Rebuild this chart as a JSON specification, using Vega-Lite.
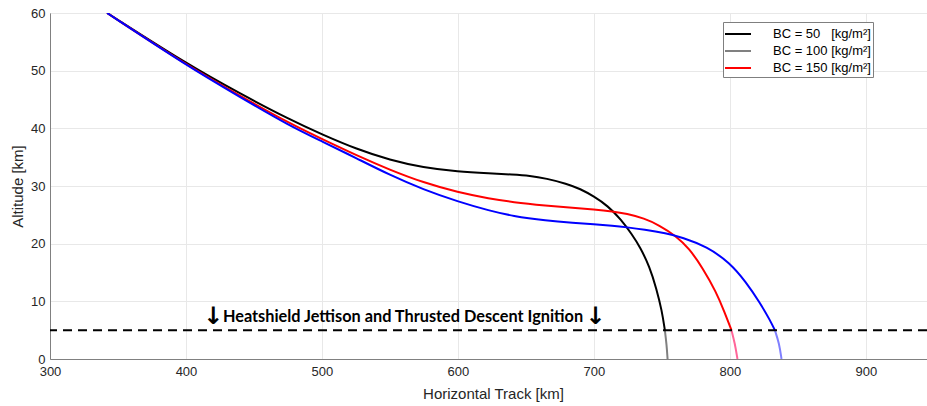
{
  "$schema": "https://vega.github.io/schema/vega-lite/v6.json",
  "width": 877,
  "height": 346,
  "autosize": {"type": "none"},
  "padding": {"left": 50, "top": 13, "right": 0, "bottom": 47},
  "background": "white",
  "config": {
    "view": {"stroke": "#808080", "strokeWidth": 1},
    "font": "Liberation Sans",
    "axis": {
      "gridColor": "#e8e8e8",
      "gridWidth": 1,
      "domainColor": "#808080",
      "ticks": false,
      "labelFlush": false,
      "labelFont": "Liberation Sans",
      "labelFontSize": 13,
      "labelColor": "#262626",
      "titleFont": "Liberation Sans",
      "titleFontSize": 15,
      "titleFontWeight": "normal",
      "titleColor": "#262626"
    }
  },
  "datasets": {
    "curves": [
      {"series": "s1", "x": 342, "y": 60},
      {"series": "s1", "x": 401, "y": 51.1},
      {"series": "s1", "x": 440, "y": 46.0},
      {"series": "s1", "x": 476.5, "y": 41.5},
      {"series": "s1", "x": 500.5, "y": 38.9},
      {"series": "s1", "x": 525.5, "y": 36.4},
      {"series": "s1", "x": 550, "y": 34.5},
      {"series": "s1", "x": 574.5, "y": 33.2},
      {"series": "s1", "x": 600, "y": 32.5},
      {"series": "s1", "x": 623.5, "y": 32.2},
      {"series": "s1", "x": 640, "y": 32.0},
      {"series": "s1", "x": 653, "y": 31.8},
      {"series": "s1", "x": 665, "y": 31.3},
      {"series": "s1", "x": 680, "y": 30.4},
      {"series": "s1", "x": 690, "y": 29.5},
      {"series": "s1", "x": 700, "y": 28.2},
      {"series": "s1", "x": 710, "y": 26.6},
      {"series": "s1", "x": 720, "y": 24.2},
      {"series": "s1", "x": 728, "y": 21.6},
      {"series": "s1", "x": 734, "y": 19.4},
      {"series": "s1", "x": 741, "y": 16.0},
      {"series": "s1", "x": 746, "y": 12.2},
      {"series": "s1", "x": 750, "y": 8.4},
      {"series": "s1", "x": 752.2, "y": 5.0},
      {"series": "s2", "x": 752.2, "y": 5.0},
      {"series": "s2", "x": 753.5, "y": 2.5},
      {"series": "s2", "x": 754.2, "y": 0},
      {"series": "s3", "x": 342, "y": 60},
      {"series": "s3", "x": 401, "y": 50.9},
      {"series": "s3", "x": 440, "y": 45.6},
      {"series": "s3", "x": 476.5, "y": 40.8},
      {"series": "s3", "x": 500.5, "y": 38.1},
      {"series": "s3", "x": 525.5, "y": 35.3},
      {"series": "s3", "x": 550, "y": 32.8},
      {"series": "s3", "x": 574.5, "y": 30.6},
      {"series": "s3", "x": 600, "y": 28.9},
      {"series": "s3", "x": 623.5, "y": 27.8},
      {"series": "s3", "x": 640, "y": 27.2},
      {"series": "s3", "x": 665, "y": 26.6},
      {"series": "s3", "x": 685, "y": 26.2},
      {"series": "s3", "x": 700, "y": 25.95},
      {"series": "s3", "x": 714, "y": 25.6},
      {"series": "s3", "x": 724, "y": 25.2},
      {"series": "s3", "x": 737, "y": 24.4},
      {"series": "s3", "x": 748, "y": 23.2},
      {"series": "s3", "x": 760, "y": 21.4},
      {"series": "s3", "x": 770, "y": 19.2},
      {"series": "s3", "x": 780, "y": 15.8},
      {"series": "s3", "x": 790, "y": 11.6},
      {"series": "s3", "x": 796, "y": 8.2},
      {"series": "s3", "x": 801.2, "y": 5.0},
      {"series": "s4", "x": 801.2, "y": 5.0},
      {"series": "s4", "x": 803.7, "y": 2.7},
      {"series": "s4", "x": 805.6, "y": 0},
      {"series": "s5", "x": 342, "y": 60},
      {"series": "s5", "x": 401, "y": 50.8},
      {"series": "s5", "x": 440, "y": 45.4},
      {"series": "s5", "x": 476.5, "y": 40.4},
      {"series": "s5", "x": 500.5, "y": 37.7},
      {"series": "s5", "x": 525.5, "y": 34.8},
      {"series": "s5", "x": 550, "y": 31.9},
      {"series": "s5", "x": 574.5, "y": 29.4},
      {"series": "s5", "x": 600, "y": 27.3},
      {"series": "s5", "x": 623.5, "y": 25.7},
      {"series": "s5", "x": 640, "y": 24.8},
      {"series": "s5", "x": 665, "y": 24.0},
      {"series": "s5", "x": 685, "y": 23.6},
      {"series": "s5", "x": 700, "y": 23.35},
      {"series": "s5", "x": 714, "y": 23.1},
      {"series": "s5", "x": 724, "y": 22.85},
      {"series": "s5", "x": 737, "y": 22.45},
      {"series": "s5", "x": 753, "y": 21.8},
      {"series": "s5", "x": 765, "y": 21.1},
      {"series": "s5", "x": 783, "y": 19.5},
      {"series": "s5", "x": 800, "y": 16.7},
      {"series": "s5", "x": 812, "y": 13.3},
      {"series": "s5", "x": 822, "y": 9.8},
      {"series": "s5", "x": 829.4, "y": 6.8},
      {"series": "s5", "x": 833.1, "y": 5.0},
      {"series": "s6", "x": 833.1, "y": 5.0},
      {"series": "s6", "x": 836.3, "y": 2.7},
      {"series": "s6", "x": 838, "y": 0}
    ],
    "marker": [{"y": 5}],
    "notes": [
      {"x": 420, "y": 7.3, "label": "↓", "kind": "arrow"},
      {"x": 701, "y": 7.3, "label": "↓", "kind": "arrow"},
      {"x": 559.6, "y": 6.47, "label": "Heatshield Jettison and Thrusted Descent Ignition", "kind": "text"}
    ]
  },
  "layer": [
    {
      "data": {"name": "curves"},
      "mark": {"type": "line", "strokeWidth": 2, "interpolate": "basis", "clip": true},
      "encoding": {
        "x": {
          "field": "x", "type": "quantitative",
          "scale": {"domain": [300, 945], "nice": false, "zero": false},
          "axis": {
            "values": [300, 400, 500, 600, 700, 800, 900],
            "title": "Horizontal Track [km]",
            "labelPadding": 6,
            "titlePadding": 8,
            "titleX": 443
          }
        },
        "y": {
          "field": "y", "type": "quantitative",
          "scale": {"domain": [0, 60], "nice": false},
          "axis": {
            "values": [0, 10, 20, 30, 40, 50, 60],
            "title": "Altitude [km]",
            "labelPadding": 5,
            "titlePadding": 5
          }
        },
        "color": {
          "field": "series", "type": "nominal",
          "scale": {
            "domain": ["s1", "s2", "s3", "s4", "s5", "s6"],
            "range": ["#000000", "#808080", "#ff0000", "#ff6699", "#0000ff", "#8080ff"]
          },
          "legend": {
            "orient": "none",
            "legendX": 673,
            "legendY": 9,
            "values": ["s1", "s2", "s3"],
            "title": null,
            "labelExpr": "datum.value == 's1' ? 'BC = 50\u00a0\u00a0\u00a0[kg/m²]' : datum.value == 's2' ? 'BC = 100 [kg/m²]' : 'BC = 150 [kg/m²]'",
            "symbolType": "M-1.5,0H1.5",
            "symbolSize": 300,
            "symbolStrokeWidth": 2,
            "symbolOffset": 3,
            "labelFont": "Liberation Sans",
            "labelFontSize": 13,
            "labelColor": "#000000",
            "labelOffset": 25,
            "labelLimit": 300,
            "padding": 2,
            "rowPadding": 0,
            "strokeColor": "#7f7f7f",
            "fillColor": "white"
          }
        }
      }
    },
    {
      "data": {"name": "marker"},
      "mark": {"type": "rule", "strokeDash": [9, 6], "strokeWidth": 2, "color": "black"},
      "encoding": {"y": {"field": "y", "type": "quantitative"}}
    },
    {
      "data": {"name": "notes"},
      "transform": [{"filter": "datum.kind == 'text'"}],
      "mark": {"type": "text", "font": "Lato", "fontWeight": "bold", "fontSize": 16.3, "align": "center", "baseline": "alphabetic", "color": "black"},
      "encoding": {
        "x": {"field": "x", "type": "quantitative"},
        "y": {"field": "y", "type": "quantitative"},
        "text": {"field": "label"}
      }
    },
    {
      "data": {"name": "notes"},
      "transform": [{"filter": "datum.kind == 'arrow'"}],
      "mark": {"type": "text", "font": "DejaVu Sans", "fontWeight": "bold", "fontSize": 24, "align": "center", "baseline": "middle", "color": "black"},
      "encoding": {
        "x": {"field": "x", "type": "quantitative"},
        "y": {"field": "y", "type": "quantitative"},
        "text": {"field": "label"}
      }
    }
  ]
}
